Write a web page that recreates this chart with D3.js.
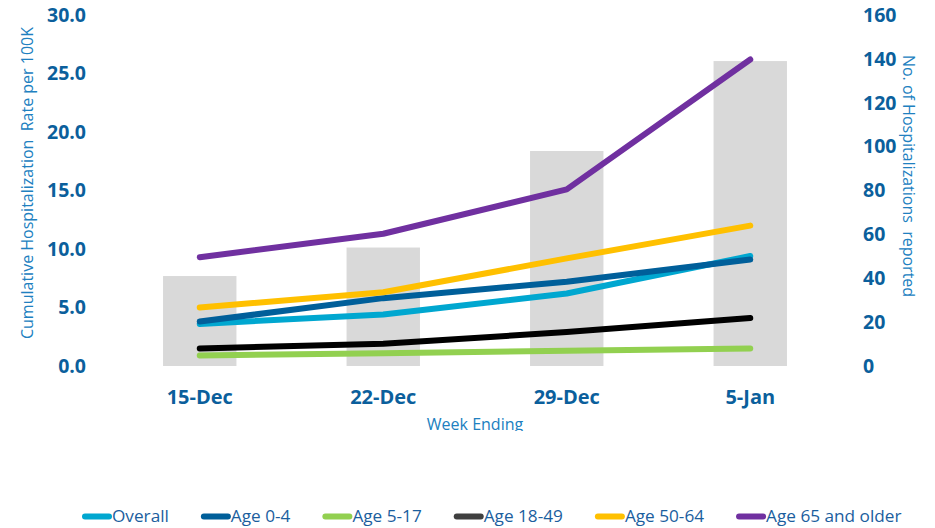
<!DOCTYPE html>
<html>
<head>
<meta charset="utf-8">
<script src="https://cdn.jsdelivr.net/npm/d3@7"></script>
<style>
    body { margin: 0; background: #fff; }
    svg { display: block; font-family: 'Open Sans', 'Noto Sans', sans-serif; }
    .tick_label { fill: #0b5f9c; font-weight: bold; font-size: 19.5px; }
    .axis_title { fill: #2080c0; font-size: 16px; }
    .legend_label { fill: #1b5e9e; font-size: 17.2px; }
</style>
</head>
<body>
<div id="chart"></div>
<script>
// data
var weeks = ['15-Dec', '22-Dec', '29-Dec', '5-Jan'];
var hospitalizations = [41, 54, 98, 139];
var series_names = ['Overall', 'Age 0-4', 'Age 5-17', 'Age 18-49', 'Age 50-64', 'Age 65 and older'];
var overall = [3.6, 4.4, 6.2, 9.4];
var age_0_4 = [3.8, 5.8, 7.2, 9.1];
var age_5_17 = [0.9, 1.1, 1.3, 1.5];
var age_18_49 = [1.5, 1.9, 2.9, 4.1];
var age_50_64 = [5.0, 6.3, 9.2, 12.0];
var age_65_older = [9.3, 11.3, 15.1, 26.2];
var left_ticks = [0, 5, 10, 15, 20, 25, 30];
var right_ticks = [0, 20, 40, 60, 80, 100, 120, 140, 160];

var series_values = [overall, age_0_4, age_5_17, age_18_49, age_50_64, age_65_older];
var series_colors = ['#00a7d0', '#005f9a', '#92d050', '#000000', '#ffc000', '#7030a0'];

var width = 935, height = 528;
var plot = { left: 108, right: 842, top: 15, bottom: 366 };

var svg = d3.select('#chart').append('svg')
    .attr('width', width)
    .attr('height', height);

var x = d3.scaleBand().domain(weeks).range([plot.left, plot.right])
    .paddingInner(0.6).paddingOuter(0.3);
var yl = d3.scaleLinear().domain([0, 30]).range([plot.bottom, plot.top]);
var yr = d3.scaleLinear().domain([0, 160]).range([plot.bottom, plot.top]);

// bars (right axis)
svg.append('g').selectAll('rect')
    .data(hospitalizations).enter()
    .append('rect')
    .attr('x', function(d, i){ return x(weeks[i]); })
    .attr('width', x.bandwidth())
    .attr('y', function(d){ return yr(d); })
    .attr('height', function(d){ return yr(0) - yr(d); })
    .attr('fill', '#d9d9d9');

// lines (left axis)
var line = d3.line()
    .x(function(d, i){ return x(weeks[i]) + x.bandwidth() / 2; })
    .y(function(d){ return yl(d); });

svg.append('g').selectAll('path')
    .data(series_values).enter()
    .append('path')
    .attr('d', line)
    .attr('fill', 'none')
    .attr('stroke', function(d, i){ return series_colors[i]; })
    .attr('stroke-width', 6)
    .attr('stroke-linecap', 'round')
    .attr('stroke-linejoin', 'round');

// axes, drawn with d3 axis and then styled
var leftAxis = svg.append('g')
    .attr('transform', 'translate(' + plot.left + ',0)')
    .call(d3.axisLeft(yl).tickValues(left_ticks).tickFormat(d3.format('.1f')).tickSize(0).tickPadding(22));
var rightAxis = svg.append('g')
    .attr('transform', 'translate(' + plot.right + ',0)')
    .call(d3.axisRight(yr).tickValues(right_ticks).tickSize(0).tickPadding(21));
var xAxis = svg.append('g')
    .attr('transform', 'translate(0,' + plot.bottom + ')')
    .call(d3.axisBottom(x).tickSize(0).tickPadding(24));

[leftAxis, rightAxis, xAxis].forEach(function(g){
    g.select('.domain').remove();
    g.attr('font-family', null).attr('font-size', null);
    g.selectAll('text').attr('class', 'tick_label').attr('fill', null);
});
xAxis.selectAll('text').attr('dy', '0.71em').style('font-size', '20px');

// axis titles
svg.append('text')
    .attr('class', 'axis_title')
    .attr('transform', 'translate(33,183) rotate(-90)')
    .attr('text-anchor', 'middle')
    .attr('xml:space', 'preserve')
    .text('Cumulative Hospitalization  Rate per 100K');

svg.append('text')
    .attr('class', 'axis_title')
    .attr('transform', 'translate(903,176) rotate(90)')
    .attr('text-anchor', 'middle')
    .attr('xml:space', 'preserve')
    .text('No. of Hospitalizations  reported');

svg.append('clipPath').attr('id', 'title_clip')
    .append('rect').attr('x', 0).attr('y', 0).attr('width', width).attr('height', 431);

svg.append('text')
    .attr('class', 'axis_title')
    .attr('clip-path', 'url(#title_clip)')
    .attr('x', 475)
    .attr('y', 430)
    .attr('text-anchor', 'middle')
    .text('Week Ending');

// legend
var legend = svg.append('g').attr('class', 'legend');
var lx = 82;
series_names.forEach(function(name, i){
    legend.append('line')
        .attr('x1', lx + 3).attr('x2', lx + 27)
        .attr('y1', 516.5).attr('y2', 516.5)
        .attr('stroke', series_colors[i] == '#000000' ? '#3f3f3f' : series_colors[i])
        .attr('stroke-width', 6)
        .attr('stroke-linecap', 'round');
    var t = legend.append('text')
        .attr('class', 'legend_label')
        .attr('x', lx + 30)
        .attr('y', 522)
        .text(name);
    lx = lx + 30 + t.node().getComputedTextLength() + 32;
});
</script>
</body>
</html>
